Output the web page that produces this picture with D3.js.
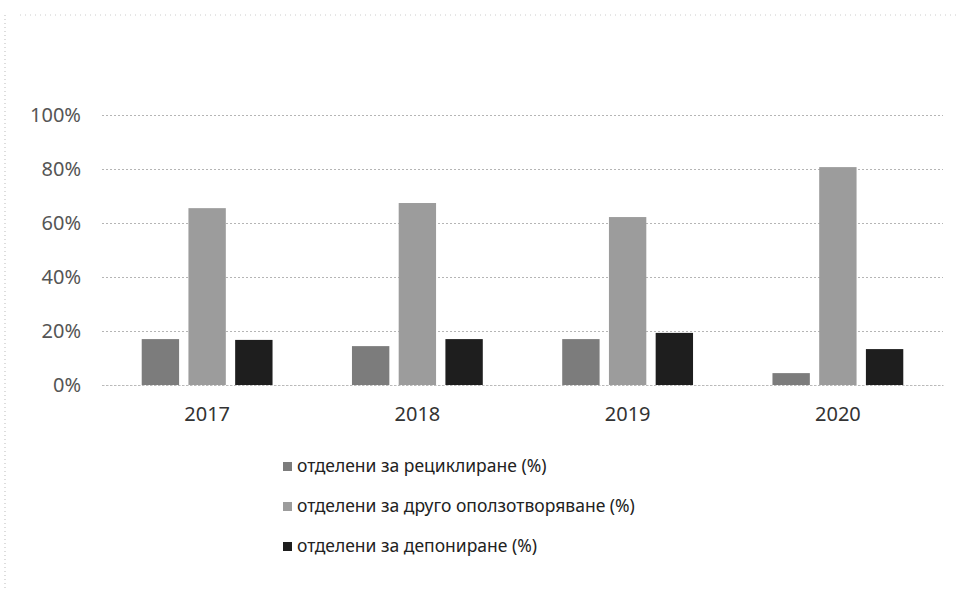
<!DOCTYPE html>
<html><head><meta charset="utf-8">
<script src="https://cdn.jsdelivr.net/npm/d3@7"></script>
<style>body{margin:0;background:#fff}svg{display:block}</style>
</head><body>
<svg id="c" width="960" height="589"></svg>
<script>
const years = ["2017","2018","2019","2020"];
const seriesNames = ["отделени за рециклиране (%)","отделени за друго оползотворяване (%)","отделени за депониране (%)"];
const recycling = [17.0, 14.4, 17.0, 4.4];
const otherRecovery = [65.5, 67.4, 62.2, 80.7];
const landfill = [16.7, 17.0, 19.3, 13.3];
const yTicks = [0, 20, 40, 60, 80, 100];
const colors = ["#7c7c7c", "#9c9c9c", "#1e1e1e"];
const seriesValues = [recycling, otherRecovery, landfill];

const svg = d3.select("#c");
const font = "'Noto Sans', sans-serif";
const x = d3.scaleBand().domain(years).range([102, 943]).paddingInner(0).paddingOuter(0);
const x1 = d3.scaleBand().domain(d3.range(3)).range([0, x.bandwidth()]).paddingInner(0.2).paddingOuter(0.85);
const y = d3.scaleLinear().domain([0, 100]).range([385, 115]);

// faint frame
svg.append("line").attr("x1",5).attr("x2",5).attr("y1",15).attr("y2",589).attr("stroke","#bbb").attr("stroke-dasharray","1,3");
svg.append("line").attr("x1",20).attr("x2",960).attr("y1",15).attr("y2",15).attr("stroke","#ccc").attr("stroke-dasharray","1,4");

// grid
const yAxis = d3.axisLeft(y).tickValues(yTicks).tickFormat(d => d + "%").tickSize(-(943 - 102)).tickPadding(21);
const ga = svg.append("g").attr("transform","translate(102,0)").call(yAxis);
ga.select(".domain").remove();
ga.selectAll(".tick line").attr("stroke","#b5b5b5").attr("stroke-dasharray","2,2").attr("stroke-width",1);
ga.selectAll(".tick text").attr("font-family",font).attr("font-size",20).attr("fill","#555");

// bars
const groups = svg.append("g").selectAll("g").data(years).join("g")
  .attr("transform", d => `translate(${x(d)},0)`);
groups.selectAll("rect").data((d,i) => seriesValues.map((s,k) => ({k, v: s[i]}))).join("rect")
  .attr("x", d => x1(d.k)).attr("width", x1.bandwidth())
  .attr("y", d => y(d.v)).attr("height", d => y(0) - y(d.v))
  .attr("fill", d => colors[d.k]);

// x axis
const xAxis = d3.axisBottom(x).tickSize(0).tickPadding(22);
const gx = svg.append("g").attr("transform","translate(0,385)").call(xAxis);
gx.select(".domain").attr("stroke","#bbb").attr("stroke-dasharray","2,2");
gx.selectAll(".tick text").attr("font-family",font).attr("font-size",20).attr("fill","#333");

// legend
const lg = svg.append("g").selectAll("g").data(seriesNames).join("g")
  .attr("transform",(d,i)=>`translate(283,${466 + i*40})`);
lg.append("rect").attr("x",0).attr("y",-4).attr("width",9).attr("height",9).attr("fill",(d,i)=>colors[i]);
lg.append("text").attr("x",14).attr("y",0).attr("dy","0.35em").attr("font-family",font).attr("font-size",17.5).attr("fill","#222").text(d=>d);
</script>
</body></html>
